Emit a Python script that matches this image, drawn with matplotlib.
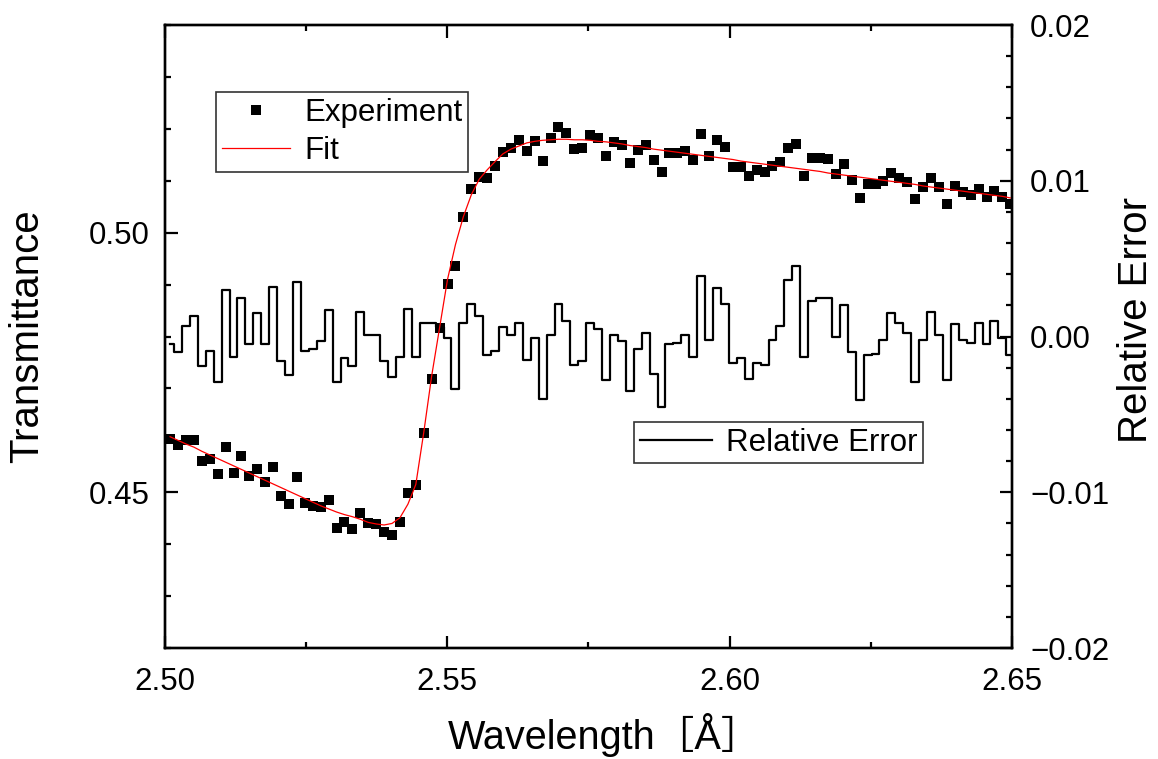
import numpy as np
import matplotlib
matplotlib.use("Agg")
import matplotlib.pyplot as plt
from matplotlib.ticker import MultipleLocator, FuncFormatter

plt.rcParams["font.family"] = ["Liberation Sans", "Noto Sans CJK JP"]

# sampling grid (evenly spaced in wavelength)
wl_first = 2.5009
wl_last = 2.6497
n_points = 107
wavelength = np.linspace(wl_first, wl_last, n_points)

transmittance = [
    0.4603, 0.4591, 0.4600, 0.4600, 0.4560, 0.4564, 0.4536, 0.4588, 0.4538, 0.4570,
    0.4531, 0.4544, 0.4519, 0.4548, 0.4492, 0.4477, 0.4530, 0.4479, 0.4474, 0.4472,
    0.4485, 0.4432, 0.4442, 0.4430, 0.4461, 0.4440, 0.4439, 0.4423, 0.4417, 0.4443,
    0.4499, 0.4514, 0.4614, 0.4719, 0.4817, 0.4901, 0.4935, 0.5031, 0.5084, 0.5108,
    0.5106, 0.5128, 0.5156, 0.5163, 0.5178, 0.5158, 0.5176, 0.5139, 0.5182, 0.5203,
    0.5192, 0.5162, 0.5163, 0.5189, 0.5183, 0.5148, 0.5175, 0.5169, 0.5135, 0.5160,
    0.5168, 0.5140, 0.5117, 0.5154, 0.5153, 0.5158, 0.5140, 0.5190, 0.5147, 0.5178,
    0.5166, 0.5126, 0.5126, 0.5110, 0.5120, 0.5116, 0.5129, 0.5136, 0.5163, 0.5171,
    0.5110, 0.5144, 0.5144, 0.5142, 0.5114, 0.5133, 0.5101, 0.5067, 0.5094, 0.5094,
    0.5100, 0.5115, 0.5106, 0.5097, 0.5064, 0.5088, 0.5105, 0.5088, 0.5056, 0.5090,
    0.5078, 0.5073, 0.5085, 0.5069, 0.5081, 0.5068, 0.5055,
]

fit = [
    0.4607, 0.4600, 0.4593, 0.4587, 0.4579, 0.4572, 0.4565, 0.4558, 0.4551, 0.4544,
    0.4537, 0.4530, 0.4523, 0.4516, 0.4509, 0.4502, 0.4495, 0.4488, 0.4481, 0.4474,
    0.4468, 0.4462, 0.4457, 0.4453, 0.4448, 0.4442, 0.4439, 0.4437, 0.4440, 0.4451,
    0.4477, 0.4515, 0.4615, 0.4724, 0.4817, 0.4910, 0.4977, 0.5031, 0.5073, 0.5103,
    0.5121, 0.5137, 0.5152, 0.5161, 0.5167, 0.5173, 0.5176, 0.5178, 0.5179, 0.5180,
    0.5180, 0.5179, 0.5179, 0.5178, 0.5176, 0.5175, 0.5173, 0.5171, 0.5168, 0.5166,
    0.5164, 0.5161, 0.5159, 0.5157, 0.5155, 0.5153, 0.5151, 0.5149, 0.5147, 0.5145,
    0.5143, 0.5141, 0.5138, 0.5136, 0.5134, 0.5132, 0.5130, 0.5128, 0.5126, 0.5124,
    0.5122, 0.5120, 0.5118, 0.5115, 0.5113, 0.5111, 0.5109, 0.5107, 0.5105, 0.5103,
    0.5101, 0.5099, 0.5097, 0.5095, 0.5093, 0.5090, 0.5088, 0.5086, 0.5084, 0.5082,
    0.5080, 0.5078, 0.5076, 0.5074, 0.5072, 0.5070, 0.5067,
]

rel_error = [
    -0.0005, -0.0010, 0.0007, 0.0013, -0.0019, -0.0009, -0.0029, 0.0030, -0.0013, 0.0025,
    -0.0005, 0.0015, -0.0005, 0.0032, -0.0016, -0.0025, 0.0035, -0.0009, -0.0008, -0.0003,
    0.0017, -0.0029, -0.0014, -0.0019, 0.0016, 0.0001, 0.0001, -0.0016, -0.0026, -0.0013,
    0.0018, -0.0013, 0.0009, 0.0009, 0.0006, -0.0001, -0.0034, 0.0009, 0.0021, 0.0013,
    -0.0012, -0.0009, 0.0006, 0.0001, 0.0009, -0.0015, -0.0001, -0.0040, 0.0001, 0.0021,
    0.0010, -0.0018, -0.0016, 0.0009, 0.0005, -0.0028, 0.0001, -0.0003, -0.0035, -0.0008,
    0.0002, -0.0024, -0.0045, -0.0005, -0.0004, 0.0001, -0.0013, 0.0039, -0.0002, 0.0031,
    0.0021, -0.0017, -0.0014, -0.0027, -0.0017, -0.0018, -0.0002, 0.0007, 0.0036, 0.0045,
    -0.0013, 0.0023, 0.0025, 0.0025, 0.0000, 0.0020, -0.0010, -0.0041, -0.0012, -0.0011,
    -0.0002, 0.0015, 0.0009, 0.0002, -0.0029, -0.0002, 0.0016, 0.0001, -0.0028, 0.0008,
    -0.0002, -0.0004, 0.0009, -0.0005, 0.0010, -0.0001, -0.0012,
]


def minus_fmt(v, pos):
    return ("%.2f" % v).replace("-", "\u2212")


fig = plt.figure(figsize=(11.58, 7.59), dpi=100)
ax = fig.add_axes([0.1425, 0.1462, 0.7314, 0.8208])
ax2 = ax.twinx()
# keep the experiment / fit on top of the error trace
ax.set_zorder(ax2.get_zorder() + 1)
ax.patch.set_visible(False)

ax2.plot(wavelength, rel_error, drawstyle="steps-mid", color="black", lw=1.6,
         label="Relative Error")
ax.plot(wavelength, transmittance, "s", color="black", ms=6.8, mew=0, label="Experiment")
ax.plot(wavelength, fit, color="red", lw=0.9, label="Fit")

ax.set_xlim(2.50, 2.65)
ax.set_ylim(0.42, 0.54)
ax2.set_ylim(-0.02, 0.02)

ax.xaxis.set_major_locator(MultipleLocator(0.05))
ax.xaxis.set_minor_locator(MultipleLocator(0.025))
ax.yaxis.set_major_locator(MultipleLocator(0.05))
ax.yaxis.set_minor_locator(MultipleLocator(0.01))
ax2.yaxis.set_major_locator(MultipleLocator(0.01))
ax2.yaxis.set_minor_locator(MultipleLocator(0.002))
ax.xaxis.set_major_formatter(FuncFormatter(minus_fmt))
ax.yaxis.set_major_formatter(FuncFormatter(minus_fmt))
ax2.yaxis.set_major_formatter(FuncFormatter(minus_fmt))

for a in (ax, ax2):
    a.tick_params(which="both", direction="in", width=1.6, labelsize=22.5)
    a.tick_params(which="major", length=9)
    a.tick_params(which="minor", length=4.5)
    for s in a.spines.values():
        s.set_linewidth(1.7)
ax.tick_params(axis="x", which="both", top=True, pad=14)
ax.tick_params(axis="y", which="both", right=False, pad=11)
ax2.tick_params(axis="y", which="both", pad=13)

ax.set_xlabel("Wavelength［Å］", fontsize=28.5)
ax.xaxis.set_label_coords(0.519, -0.105)
ax.set_ylabel("Transmittance", fontsize=29, labelpad=31)
ax2.set_ylabel("Relative Error", fontsize=29)
ax2.yaxis.set_label_coords(1.124, 0.526)

leg1 = ax.legend(loc="upper left", bbox_to_anchor=(216 / 1158, 1 - 92 / 759),
                 bbox_transform=fig.transFigure, fontsize=22.5, fancybox=False,
                 edgecolor="#333333", framealpha=1, borderaxespad=0,
                 handlelength=2.2, handletextpad=0.45, labelspacing=0.28,
                 borderpad=0.18, numpoints=1)
leg1.get_frame().set_linewidth(1.2)

leg2 = ax2.legend(loc="upper left", bbox_to_anchor=(634 / 1158, 1 - 422 / 759),
                  bbox_transform=fig.transFigure, fontsize=22.5, fancybox=False,
                  edgecolor="#333333", framealpha=1, borderaxespad=0,
                  handlelength=2.3, handletextpad=0.45, borderpad=0.18)
leg2.get_frame().set_linewidth(1.2)

fig.savefig("out.png", dpi=100)
